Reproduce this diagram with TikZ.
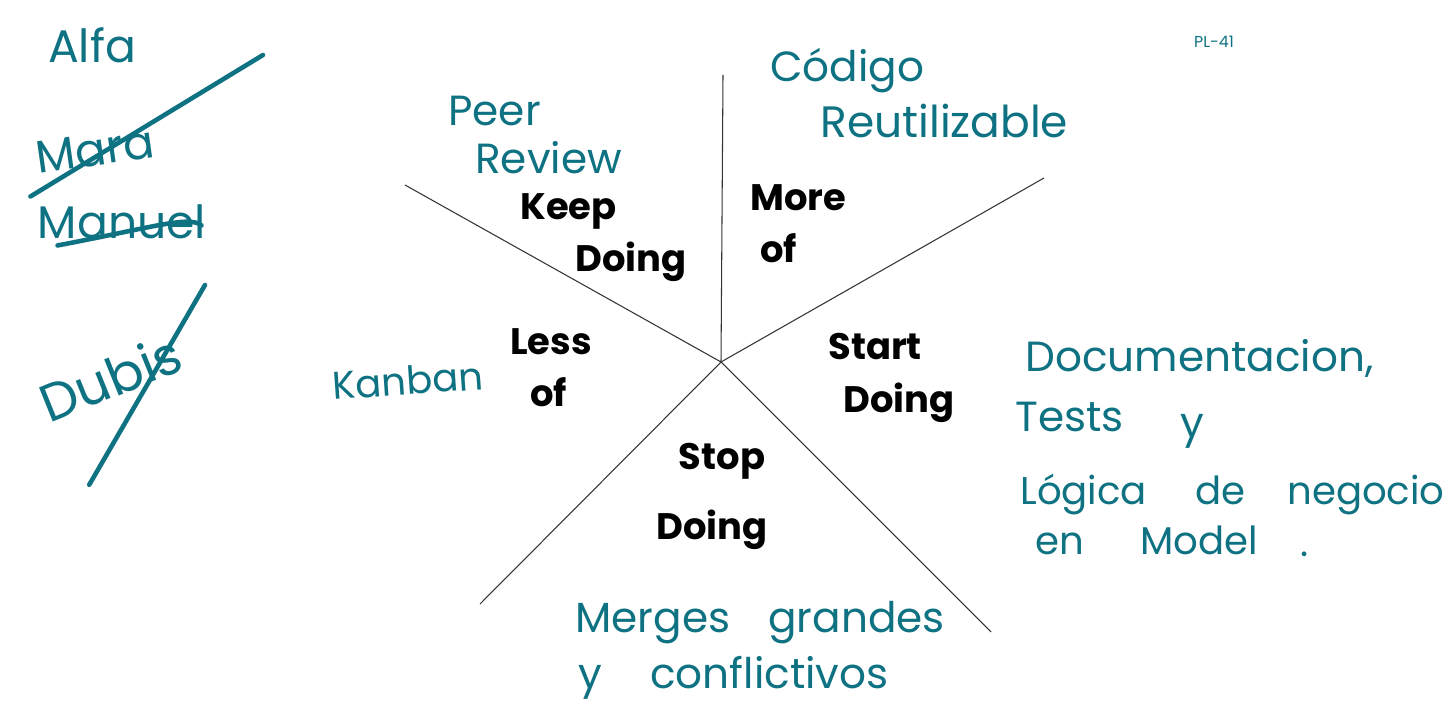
\documentclass[tikz,border=0pt]{standalone}
\usepackage{fontspec}
\setmainfont{Poppins}
\definecolor{ink}{RGB}{14,114,130}
\begin{document}
\begin{tikzpicture}[
  x=0.02cm,
  y=-0.02cm,
  spoke/.style={draw=black!80, line width=0.6pt},
  heading/.style={
    font=\fontsize{21}{30}\selectfont\bfseries,
    text=black,
    align=left,
    anchor=north west,
    inner sep=0pt
  },
  idea/.style={
    font=\fontsize{24}{30}\selectfont,
    text=ink,
    anchor=base west,
    inner sep=0pt
  },
  smallidea/.style={idea, font=\fontsize{22}{26}\selectfont},
  scribble/.style={
    font=\fontsize{26}{28}\selectfont,
    text=ink,
    inner sep=0pt
  },
  strike/.style={draw=ink, line width=2.6pt, line cap=round},
  tag/.style={font=\fontsize{9}{10}\selectfont, text=ink, inner sep=0pt}
]

\useasboundingbox (0,0) rectangle (1453,722);

% starfish spokes
\coordinate (hub) at (721,362);
\coordinate (tipn) at (723,75);
\coordinate (tipne) at (1044,178);
\coordinate (tipse) at (991,632);
\coordinate (tipsw) at (480,604);
\coordinate (tipnw) at (405,185);
\foreach \t in {tipn,tipne,tipse,tipsw,tipnw}
  \draw[spoke] (hub) -- (\t);

% section headings
\node[heading] (keep) at (520,193) {Keep\\\hspace*{1.1cm}Doing};
\node[heading] (more) at (750,184) {More\\\hspace*{0.2cm}of};
\node[heading] (less) at (510,328) {Less\\\hspace*{0.4cm}of};
\node[heading] (start) at (828,333) {Start\\\hspace*{0.3cm}Doing};
\node[heading] (stop) at (656,443) {\hspace*{0.45cm}Stop\\[0.35cm]Doing};

% ideas in each section
\node[idea] (peer) at (448,126) {Peer};
\node[idea] (review) at (475,174) {Review};
\node[idea] (codigo) at (770,82) {Código};
\node[idea, font=\fontsize{25}{30}\selectfont] (reuse) at (820,138) {Reutilizable};
\node[smallidea, rotate=4] (kanban) at (333,400) {Kanban};
\node[idea] (docs) at (1025,372) {Documentacion,};
\node[idea] (tests) at (1015,432) {Tests};
\node[idea] (yand) at (1180,438) {y};
\node[smallidea] (logic) at (1020,504) {Lógica};
\node[smallidea] (de) at (1195,504) {de};
\node[smallidea] (negocio) at (1287,504) {negocio};
\node[smallidea] (en) at (1035,554) {en};
\node[smallidea] (model) at (1140,554) {Model};
\node[smallidea] (enddot) at (1300,556) {.};
\node[idea] (merges) at (575,632) {Merges};
\node[idea] (grandes) at (768,632) {grandes};
\node[idea] (ysmall) at (578,688) {y};
\node[idea] (conflict) at (650,688) {conflictivos};

\node[tag] (board) at (1214,42) {PL-41};

% crossed out names
\node[scribble] (alfa) at (92,45) {Alfa};
\node[scribble, rotate=8] (mara) at (95,150) {Mara};
\node[scribble] (manuel) at (122,222) {Manuel};
\node[scribble, font=\fontsize{30}{32}\selectfont, rotate=22] (dubis) at (110,378) {Dubis};
\draw[strike] ([shift={(-8,22)}]mara.south west) -- (263,55);
\draw[strike] ([shift={(20,6)}]manuel.south west) .. controls (150,228) and (190,215) .. ([shift={(-5,-14)}]manuel.south east);
\draw[strike] ([shift={(40,60)}]dubis.south west) -- (205,285);
\end{tikzpicture}
\end{document}
